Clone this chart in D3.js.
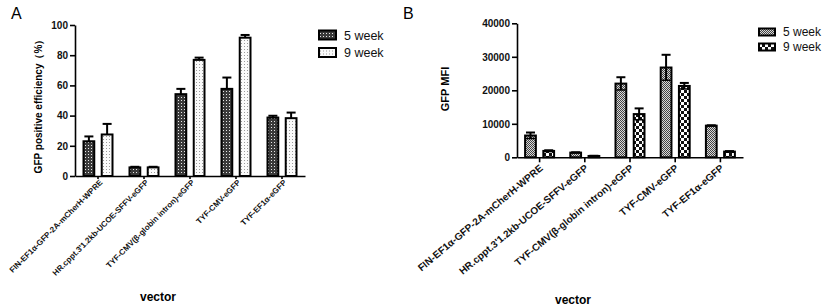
<!DOCTYPE html>
<html>
<head>
<meta charset="utf-8">
<script src="https://cdn.jsdelivr.net/npm/d3@7"></script>
<style>
  body { margin: 0; background: #fff; }
  svg { font-family: "Liberation Sans", Arial, sans-serif; }
  .axis path, .axis line { stroke: #000; stroke-width: 1.6; }
  .axis text { font-weight: bold; fill: #111; }
</style>
</head>
<body>
<svg id="chart" width="825" height="307"></svg>
<script>
// categories (vectors)
const categories = [
  "FIN-EF1α-GFP-2A-mCherH-WPRE",
  "HR.cppt.3'1.2kb-UCOE-SFFV-eGFP",
  "TYF-CMV(β-globin intron)-eGFP",
  "TYF-CMV-eGFP",
  "TYF-EF1α-eGFP"
];
const series = ["5 week", "9 week"];

// panel A: GFP positive efficiency (%)
const eff_5 = [23, 5.7, 54.2, 57.7, 38.7];
const eff_5_err = [3.2, 0.4, 3.5, 7.5, 1.2];
const eff_9 = [27.5, 5.7, 76.9, 91.6, 38.3];
const eff_9_err = [7, 0.4, 1.5, 1.8, 3.7];
const eff_ticks = [0, 20, 40, 60, 80, 100];

// panel B: GFP MFI
const mfi_5 = [6500, 1400, 22000, 26800, 9450];
const mfi_5_err = [900, 100, 1900, 3800, 100];
const mfi_9 = [1900, 400, 12900, 21300, 1700];
const mfi_9_err = [200, 50, 1700, 900, 150];
const mfi_ticks = [0, 10000, 20000, 30000, 40000];

const svg = d3.select('#chart');
const defs = svg.append('defs');

// fill patterns
function add_pattern(id, size, bg, cells){
  const p = defs.append('pattern').attr('id', id)
    .attr('patternUnits', 'userSpaceOnUse')
    .attr('width', size).attr('height', size);
  p.append('rect').attr('width', size).attr('height', size).attr('fill', bg);
  cells.forEach(c => p.append('rect')
    .attr('x', c[0]).attr('y', c[1]).attr('width', c[2]).attr('height', c[3]).attr('fill', c[4]));
}
add_pattern('a5', 3, '#3a3a3a', [[1, 1, 1, 1, '#e8e8e8']]);
add_pattern('a9', 3, '#fafafa', [[1, 1, 1, 1, '#9a9a9a']]);
add_pattern('b5', 2, '#d8d8d8', [[0, 0, 1, 1, '#444'], [1, 1, 1, 1, '#444']]);
add_pattern('b9', 6, '#fff', [[0, 0, 3, 3, '#111'], [3, 3, 3, 3, '#111']]);

function draw_panel(cfg){
  const g = svg.append('g');
  const x0 = d3.scaleBand().domain(categories).range([cfg.left, cfg.right]);
  const x1 = d3.scaleBand().domain(series).range([-15.5, 15.5]).paddingInner(0.3);
  const y = d3.scaleLinear().domain([0, cfg.max]).range([cfg.bottom, cfg.top]);

  const data = [];
  categories.forEach((c, i) => {
    data.push({cat: c, s: series[0], v: cfg.v5[i], e: cfg.e5[i], fill: cfg.fills[0]});
    data.push({cat: c, s: series[1], v: cfg.v9[i], e: cfg.e9[i], fill: cfg.fills[1]});
  });
  const bar_mid = d => x0(d.cat) + x0.bandwidth() / 2 + x1(d.s) + x1.bandwidth() / 2;

  g.selectAll('.bar').data(data).enter().append('rect')
    .attr('class', 'bar')
    .attr('x', d => x0(d.cat) + x0.bandwidth() / 2 + x1(d.s) + 1)
    .attr('y', d => y(d.v))
    .attr('width', x1.bandwidth() - 2)
    .attr('height', d => cfg.bottom - y(d.v))
    .attr('fill', d => `url(#${d.fill})`)
    .attr('stroke', '#000').attr('stroke-width', 2);

  // error bars
  const eb = g.selectAll('.err').data(data).enter().append('g').attr('class', 'err')
    .attr('transform', d => `translate(${bar_mid(d)},0)`);
  eb.append('line')
    .attr('y1', d => cfg.both ? y(d.v - d.e) : y(d.v)).attr('y2', d => y(d.v + d.e))
    .attr('stroke', '#000').attr('stroke-width', 2);
  eb.append('line').attr('x1', -4.5).attr('x2', 4.5)
    .attr('y1', d => y(d.v + d.e)).attr('y2', d => y(d.v + d.e))
    .attr('stroke', '#000').attr('stroke-width', 2);
  if (cfg.both) {
    eb.append('line').attr('x1', -4.5).attr('x2', 4.5)
      .attr('y1', d => y(d.v - d.e)).attr('y2', d => y(d.v - d.e))
      .attr('stroke', '#000').attr('stroke-width', 1.5);
  }

  // axes
  const y_axis = d3.axisLeft(y).tickValues(cfg.ticks).tickFormat(d3.format('d'))
    .tickSize(5).tickPadding(2).tickSizeOuter(0);
  const ya = g.append('g').attr('class', 'y axis')
    .attr('transform', `translate(${cfg.left},0)`).call(y_axis);
  ya.selectAll('text').style('font-size', cfg.tickFont + 'px');

  const x_axis = d3.axisBottom(x0).tickSize(cfg.xTick).tickSizeOuter(0).tickFormat('');
  g.append('g').attr('class', 'x axis')
    .attr('transform', `translate(0,${cfg.bottom})`).call(x_axis);

  g.selectAll('.xlab').data(categories).enter().append('text')
    .attr('class', 'xlab')
    .attr('transform', d => `translate(${x0(d) + x0.bandwidth() / 2 + cfg.labDx},${cfg.bottom + cfg.labDy}) rotate(${cfg.angle})`)
    .attr('text-anchor', 'end')
    .style('font-size', cfg.labFont + 'px')
    .style('font-weight', 'bold')
    .style('fill', '#111')
    .text(d => d);

  // axis titles
  g.append('text')
    .attr('transform', `translate(${cfg.yTitleX},${cfg.yTitleY}) rotate(-90)`)
    .attr('text-anchor', 'middle')
    .style('font-size', cfg.yTitleFont + 'px').style('font-weight', 'bold')
    .text(cfg.yTitle);
  g.append('text')
    .attr('x', cfg.xTitleX).attr('y', cfg.xTitleY)
    .attr('text-anchor', 'middle')
    .style('font-size', '12px').style('font-weight', 'bold')
    .text('vector');

  // panel letter
  g.append('text').attr('x', cfg.letterX).attr('y', 19)
    .style('font-size', '16px').text(cfg.letter);

  // legend
  const lg = g.selectAll('.leg').data(series).enter().append('g')
    .attr('transform', (d, i) => `translate(${cfg.legX},${cfg.legY + i * cfg.legStep})`);
  lg.append('rect').attr('x', 0).attr('y', -cfg.swH / 2).attr('width', cfg.swW).attr('height', cfg.swH)
    .attr('fill', (d, i) => `url(#${cfg.fills[i]})`)
    .attr('stroke', '#000').attr('stroke-width', 2);
  lg.append('text').attr('x', cfg.swW + 8).attr('dy', '0.36em')
    .style('font-size', cfg.legFont + 'px').style('fill', '#111')
    .text(d => d);
}

draw_panel({
  left: 75, right: 305, top: 25, bottom: 176, max: 100,
  v5: eff_5, e5: eff_5_err, v9: eff_9, e9: eff_9_err, ticks: eff_ticks,
  fills: ['a5', 'a9'], both: false,
  tickFont: 10, xTick: 3, labDx: 5, labDy: 7, angle: -45, labFont: 8,
  yTitle: 'GFP positive efficiency（%）', yTitleX: 42, yTitleY: 104, yTitleFont: 10,
  xTitleX: 158, xTitleY: 301, letter: 'A', letterX: 11,
  legX: 319, legY: 35, legStep: 17.5, swW: 17, swH: 9, legFont: 12.5
});

draw_panel({
  left: 517, right: 743, top: 23.3, bottom: 157.3, max: 40000,
  v5: mfi_5, e5: mfi_5_err, v9: mfi_9, e9: mfi_9_err, ticks: mfi_ticks,
  fills: ['b5', 'b9'], both: true,
  tickFont: 10, xTick: 5, labDx: 4, labDy: 12, angle: -40, labFont: 10,
  yTitle: 'GFP MFI', yTitleX: 449, yTitleY: 89, yTitleFont: 11,
  xTitleX: 573, xTitleY: 304, letter: 'B', letterX: 403,
  legX: 759, legY: 32, legStep: 15, swW: 16, swH: 7, legFont: 12
});
</script>
</body>
</html>
